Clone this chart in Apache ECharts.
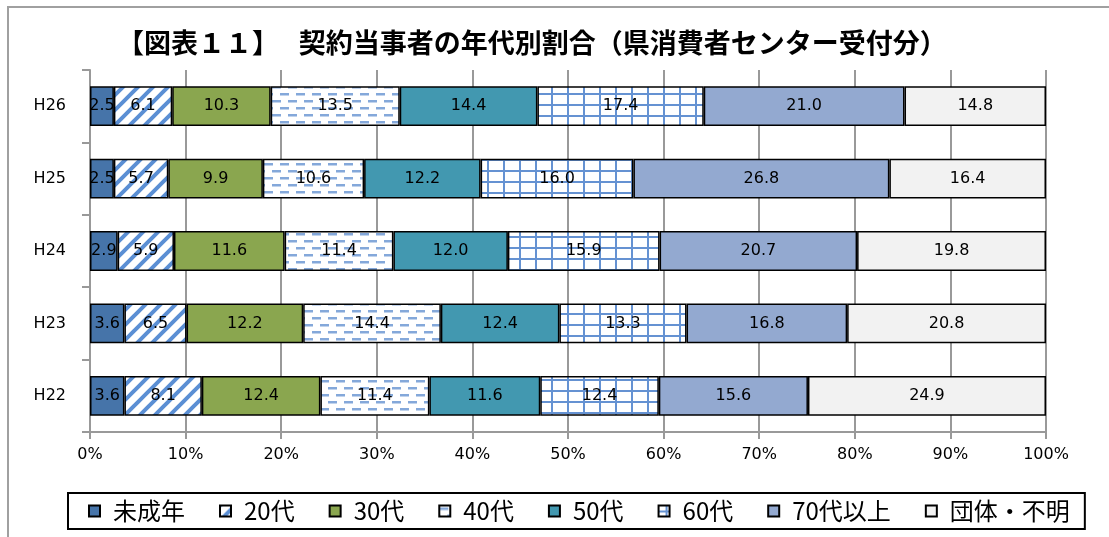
<!DOCTYPE html>
<html>
<head>
<meta charset="utf-8">
<script src="https://cdn.jsdelivr.net/npm/echarts@6/dist/echarts.min.js"></script>
<style>
html,body{margin:0;padding:0;background:#fff;}
#chart{width:1109px;height:537px;}
</style>
</head>
<body>
<div id="chart"></div>
<script>
// ---- data ----
const titleText = '【図表１１】\u3000 契約当事者の年代別割合（県消費者センター受付分）';
const categories = ['H26', 'H25', 'H24', 'H23', 'H22'];
const seriesNames = ['未成年', '20代', '30代', '40代', '50代', '60代', '70代以上', '団体・不明'];
const minor        = [2.5, 2.5, 2.9, 3.6, 3.6];
const age20        = [6.1, 5.7, 5.9, 6.5, 8.1];
const age30        = [10.3, 9.9, 11.6, 12.2, 12.4];
const age40        = [13.5, 10.6, 11.4, 14.4, 11.4];
const age50        = [14.4, 12.2, 12.0, 12.4, 11.6];
const age60        = [17.4, 16.0, 15.9, 13.3, 12.4];
const age70        = [21.0, 26.8, 20.7, 16.8, 15.6];
const groupUnknown = [14.8, 16.4, 19.8, 20.8, 24.9];
const seriesValues = [minor, age20, age30, age40, age50, age60, age70, groupUnknown];

// ---- styles ----
function makePattern(kind) {
  const c = document.createElement('canvas');
  const ctx = c.getContext('2d');
  if (kind === 'diag') {
    c.width = 15; c.height = 15;
    ctx.fillStyle = '#fff'; ctx.fillRect(0, 0, 15, 15);
    ctx.strokeStyle = '#5b8fd4'; ctx.lineWidth = 4;
    ctx.beginPath();
    ctx.moveTo(-4, 19); ctx.lineTo(19, -4);
    ctx.moveTo(-19, 19); ctx.lineTo(4, -4);
    ctx.moveTo(11, 19); ctx.lineTo(34, -4);
    ctx.stroke();
  } else if (kind === 'dash') {
    c.width = 16; c.height = 14;
    ctx.fillStyle = '#fff'; ctx.fillRect(0, 0, 16, 14);
    ctx.fillStyle = '#84a8da';
    ctx.fillRect(0, 2, 9, 2.5);
    ctx.fillRect(8, 9, 8, 2.5);
    ctx.fillRect(0, 9, 1, 2.5);
  } else if (kind === 'grid') {
    c.width = 16; c.height = 11;
    ctx.fillStyle = '#fff'; ctx.fillRect(0, 0, 16, 11);
    ctx.fillStyle = '#6592d2';
    ctx.fillRect(7, 0, 2, 11);
    ctx.fillRect(0, 5, 16, 2);
  }
  return { image: c, repeat: 'repeat' };
}
const fills = [
  '#4674a9',
  makePattern('diag'),
  '#8aa64f',
  makePattern('dash'),
  '#4298b0',
  makePattern('grid'),
  '#93a9d0',
  '#f2f2f2'
];

const rowSums = categories.map((_, i) => seriesValues.reduce((s, arr) => s + arr[i], 0));

const series = seriesNames.map((name, k) => ({
  name: name,
  type: 'bar',
  stack: 'total',
  barWidth: '55%',
  itemStyle: { color: fills[k], borderColor: '#000', borderWidth: 1.5 },
  label: {
    show: true,
    position: 'inside',
    color: '#000',
    fontSize: 16,
    fontFamily: 'DejaVu Sans',
    textBorderWidth: 0,
    formatter: p => seriesValues[k][p.dataIndex].toFixed(1)
  },
  data: seriesValues[k].map((v, i) => v * 100 / rowSums[i])
}));

const chart = echarts.init(document.getElementById('chart'));
chart.setOption({
  animation: false,
  backgroundColor: '#fff',
  title: {
    text: titleText,
    left: 117,
    top: 29,
    padding: 0,
    textStyle: { fontFamily: 'Noto Sans CJK JP', fontWeight: 'bold', fontSize: 27, color: '#000' }
  },
  graphic: [{
    type: 'rect',
    shape: { x: 8, y: 7, width: 1300, height: 700 },
    style: { fill: 'none', stroke: '#a0a0a0', lineWidth: 2 },
    silent: true
  }],
  legend: {
    left: 68,
    top: 493,
    icon: 'rect',
    itemWidth: 11,
    itemHeight: 11,
    itemGap: 34,
    padding: [6, 15, 6, 20],
    borderColor: '#000',
    borderWidth: 2,
    itemStyle: { borderColor: '#000', borderWidth: 2 },
    textStyle: { fontFamily: 'Noto Sans CJK JP', fontSize: 24, color: '#000', padding: [0, 0, 0, 8] },
    data: seriesNames
  },
  grid: { left: 90, right: 63, top: 70, bottom: 105 },
  xAxis: {
    type: 'value',
    min: 0,
    max: 100,
    interval: 10,
    axisLine: { show: true, lineStyle: { color: '#999', width: 2 } },
    axisTick: { show: true, length: 7, lineStyle: { color: '#999', width: 2 } },
    splitLine: { show: true, lineStyle: { color: '#999', width: 2 } },
    axisLabel: { formatter: '{value}%', margin: 15, color: '#000', fontSize: 16, fontFamily: 'DejaVu Sans' }
  },
  yAxis: {
    type: 'category',
    data: categories,
    inverse: true,
    axisLine: { show: true, lineStyle: { color: '#999', width: 2 } },
    axisTick: { show: true, length: 8, lineStyle: { color: '#999', width: 2 } },
    axisLabel: { margin: 24, color: '#000', fontSize: 16, fontFamily: 'DejaVu Sans' }
  },
  series: series
});
</script>
</body>
</html>
